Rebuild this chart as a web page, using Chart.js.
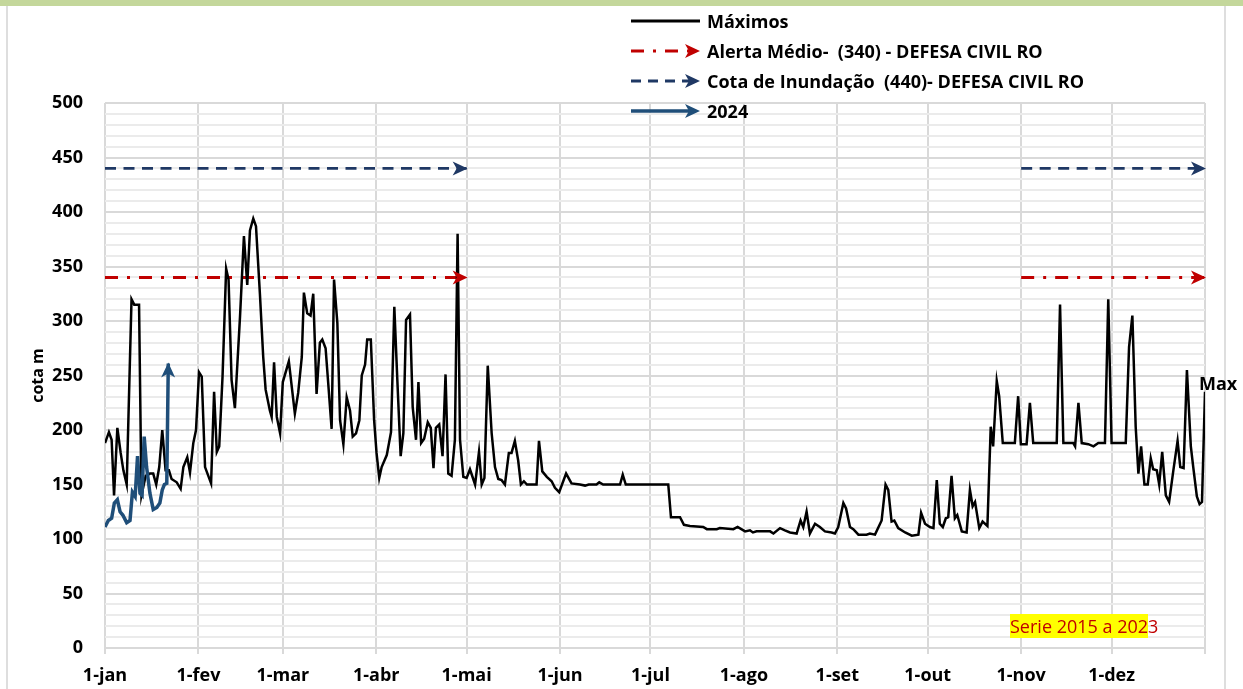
<!DOCTYPE html>
<html lang="pt">
<head>
  <meta charset="UTF-8">
  <title>Cotas máximas</title>
  <style>
    body { margin: 0; background: #fff; font-family: 'Open Sans', sans-serif; }
    #quadro { position: relative; width: 1243px; height: 689px; overflow: hidden; }
    .barra { position: absolute; left: 0; top: 0; width: 1243px; height: 6px; background: #c4d79b; }
    .borda { position: absolute; top: 6px; width: 2px; height: 683px; background: #dedede; }
    #grafico { position: absolute; left: 0; top: 0; }
    .item { position: absolute; left: 631px; height: 24px; white-space: nowrap; }
    .item svg { position: absolute; left: 0; top: 2px; }
    .item span { position: absolute; left: 76px; top: 0; font-weight: bold; font-size: 18px; line-height: 24px; color: #000; }
    .nota { position: absolute; left: 1010px; top: 614px; font-size: 18px; line-height: 25px; color: #c00000; white-space: nowrap; }
    .nota b { font-weight: normal; background: #ffff00; }
  </style>
</head>
<body>
<div id="quadro">
  <div class="barra"></div>
  <div class="borda" style="left:6px"></div>
  <div class="borda" style="left:1224px"></div>
  <canvas id="grafico" width="1243" height="689"></canvas>

  <div class="item" style="top:9px">
    <svg width="72" height="20"><line x1="0" y1="10" x2="69" y2="10" stroke="#000" stroke-width="3"/></svg>
    <span>Máximos</span>
  </div>
  <div class="item" style="top:39px">
    <svg width="72" height="20"><line x1="0" y1="10" x2="58" y2="10" stroke="#c00000" stroke-width="3" stroke-dasharray="13 9 3 9"/><polygon points="69,10 54,3 58,10 54,17" fill="#c00000"/></svg>
    <span>Alerta Médio-&nbsp; (340) - DEFESA CIVIL RO</span>
  </div>
  <div class="item" style="top:69px">
    <svg width="72" height="20"><line x1="0" y1="10" x2="58" y2="10" stroke="#1f3864" stroke-width="3" stroke-dasharray="10 7"/><polygon points="69,10 54,3 58,10 54,17" fill="#1f3864"/></svg>
    <span>Cota de Inundação&nbsp; (440)- DEFESA CIVIL RO</span>
  </div>
  <div class="item" style="top:99px">
    <svg width="72" height="20"><line x1="0" y1="10" x2="60" y2="10" stroke="#1f4e79" stroke-width="3.5"/><polygon points="69,10 54,3 58,10 54,17" fill="#1f4e79"/></svg>
    <span>2024</span>
  </div>

  <div class="nota"><b>Serie 2015 a 202</b>3</div>
</div>

<script src="https://cdn.jsdelivr.net/npm/chart.js"></script>
<script>
  // eixo x: dias desde 1-jan
  const mesesDias = [0, 31, 59, 90, 120, 151, 181, 212, 243, 273, 304, 334, 365];
  const mesesRotulos = ['1-jan', '1-fev', '1-mar', '1-abr', '1-mai', '1-jun', '1-jul', '1-ago', '1-set', '1-out', '1-nov', '1-dez'];

  // Máximos (serie 2015 a 2023)
  const maxDias = [0, 1.3, 2.2, 3, 4.1, 5.2, 6.1, 7.2, 8.8, 9.7, 11.3, 12.1, 13.5, 14.9, 16, 17, 18, 19, 20.1, 21.2,
    22.1, 23.8, 25.1, 26, 27.3, 28.2, 29.3, 30.2, 31.2, 32.1, 33.2, 35.2, 36.2, 37.1, 37.9, 39, 40.2, 41, 42, 43.1,
    44.8, 46.1, 47.2, 48.1, 49.2, 50.1, 51.4, 52.5, 53.3, 54.7, 55.3, 56.1, 57, 58.1, 59, 61, 63, 64.1, 65.3, 66,
    67.1, 68.2, 69.1, 70.2, 71.3, 72.1, 73.2, 75.2, 76, 77.1, 78, 79.1, 80.2, 81.3, 82.2, 83.3, 84.4, 85.2, 86.3, 87,
    88.2, 89.3, 90.1, 91, 91.8, 93.5, 94.9, 96, 97, 98.1, 99, 99.9, 101.2, 102.1, 103.2, 104, 104.9, 105.9, 107.1, 108.1,
    109, 109.8, 110.9, 112, 113, 113.9, 115, 116.1, 117, 117.8, 118.9, 120, 121.1, 122.8, 124.1, 125, 125.9, 127, 128.3, 129.4,
    130.5, 131.6, 132.7, 134, 134.9, 136, 137.1, 138, 139, 140, 143.2, 144, 145.1, 146.6, 148.2, 149.3, 150.7, 153, 154.8, 157.6,
    159.3, 160.5, 163.1, 164, 165.3, 170.9, 171.8, 172.8, 186.9, 187.8, 190.8, 192.1, 194.1, 198.5, 199.7, 203, 204, 208.5, 209.9, 212.4,
    214, 215, 216.2, 220.7, 221.8, 224, 225.6, 227.3, 229.5, 230.8, 231.7, 232.8, 233.9, 235.6, 237.2, 238.9, 241.1, 242.2, 243.3, 245,
    245.9, 247.2, 248.3, 250, 252.7, 253.8, 255.5, 257.7, 259, 259.9, 261, 261.9, 263.2, 265.5, 267.7, 269.9, 270.8, 272.1, 273.7, 274.9,
    276, 277, 278, 279, 279.8, 280.9, 282, 282.8, 284.3, 285.9, 287, 287.9, 288.7, 290.1, 291.2, 292.8, 293.9, 294.7, 295.9, 296.7,
    297.9, 301.9, 303, 303.9, 305.8, 306.9, 308, 315.8, 316.9, 318, 321.3, 321.9, 323, 324.1, 326.3, 328, 329.6, 331.8, 332.9, 334,
    338.7, 339.8, 340.9, 342, 342.9, 343.8, 344.9, 346, 347, 347.8, 349, 349.8, 350.8, 352, 353.1, 354.5, 355.9, 356.8, 357.9, 359,
    360.3, 361.1, 362.3, 363.2, 364, 365];
  const maxCotas = [188, 198, 191, 140, 202, 179, 163, 150, 320, 315, 315, 140, 158, 160, 160, 150, 166, 200, 163, 163,
    155, 152, 146, 166, 175, 161, 188, 200, 253, 249, 166, 151, 235, 180, 185, 249, 348, 338, 246, 220,
    304, 378, 333, 383, 394, 387, 325, 267, 237, 218, 212, 262, 212, 197, 244, 263, 215, 234, 267, 326,
    307, 305, 325, 233, 280, 283, 275, 201, 338, 298, 209, 187, 230, 218, 194, 197, 209, 250, 260, 283,
    283, 209, 179, 156, 166, 177, 198, 313, 246, 176, 197, 301, 306, 221, 191, 244, 188, 192, 207, 202,
    165, 202, 205, 176, 251, 160, 158, 191, 380, 191, 157, 156, 164, 150, 180, 150, 156, 259, 197, 166,
    155, 154, 150, 179, 179, 190, 172, 150, 153, 150, 150, 190, 162, 157, 153, 147, 143, 160, 151, 150,
    149, 150, 150, 152, 150, 150, 159, 150, 150, 120, 120, 113, 112, 111, 109, 109, 110, 109, 111, 107,
    108, 106, 107, 107, 105, 110, 108, 106, 105, 117, 111, 125, 105, 114, 111, 107, 106, 105, 111, 133,
    128, 111, 109, 104, 104, 105, 104, 117, 150, 145, 116, 117, 110, 106, 103, 104, 124, 114, 111, 110,
    154, 114, 111, 119, 120, 158, 119, 122, 107, 106, 145, 130, 134, 110, 116, 112, 203, 185, 245, 231,
    188, 188, 231, 187, 187, 225, 188, 188, 315, 188, 188, 185, 225, 188, 187, 185, 188, 188, 320, 188,
    188, 276, 305, 203, 160, 185, 150, 150, 174, 164, 163, 150, 180, 140, 134, 163, 190, 166, 165, 255,
    185, 166, 139, 132, 134, 235];

  // 2024
  const dias2024 = [0, 1.1, 2.2, 3.1, 4.1, 5, 5.9, 7.2, 8.3, 9.1, 10, 10.8, 11.6, 12.3, 13, 13.8, 14.9, 16, 17.2, 18.2, 19, 19.7, 20.5, 21];
  const cotas2024 = [111, 117, 119, 133, 136, 125, 122, 115, 117, 143, 139, 176, 142, 140, 194, 166, 142, 127, 129, 133, 145, 150, 151, 261];

  // niveis de referencia (Defesa Civil RO) e trechos onde aparecem
  const alertaMedio = 340;
  const cotaInundacao = 440;
  const trechosDias = [[0, 120], [304, 365]];

  const pares = (xs, ys) => xs.map((x, i) => ({ x: x, y: ys[i] }));
  const nivel = (trecho, v) => trecho.map(d => ({ x: d, y: v }));

  const fonte = "'Open Sans', sans-serif";
  Chart.defaults.font.family = fonte;
  Chart.defaults.color = '#000';

  // ponta de seta no fim das linhas marcadas
  const setas = {
    id: 'setas',
    afterDatasetsDraw(chart) {
      const ctx = chart.ctx;
      chart.data.datasets.forEach((ds, i) => {
        if (!ds.seta) return;
        const pts = chart.getDatasetMeta(i).data;
        const a = pts[pts.length - 2], b = pts[pts.length - 1];
        const ang = Math.atan2(b.y - a.y, b.x - a.x);
        ctx.save();
        ctx.translate(b.x, b.y);
        ctx.rotate(ang);
        ctx.beginPath();
        ctx.moveTo(1, 0);
        ctx.lineTo(-14, -7);
        ctx.lineTo(-10, 0);
        ctx.lineTo(-14, 7);
        ctx.closePath();
        ctx.fillStyle = ds.borderColor;
        ctx.fill();
        ctx.restore();
      });
      // rotulo "Max" no ultimo ponto da serie de maximos
      const pm = chart.getDatasetMeta(1).data;
      const ult = pm[pm.length - 1];
      ctx.save();
      ctx.font = 'bold 18px ' + fonte;
      ctx.fillStyle = '#000';
      ctx.textAlign = 'left';
      ctx.textBaseline = 'middle';
      ctx.fillText('Max', ult.x - 6, ult.y - 7);
      ctx.restore();
    }
  };

  new Chart(document.getElementById('grafico'), {
    type: 'line',
    data: {
      datasets: [
        { label: '2024', data: pares(dias2024, cotas2024), borderColor: '#1f4e79', borderWidth: 3.5, seta: true },
        { label: 'Máximos', data: pares(maxDias, maxCotas), borderColor: '#000000', borderWidth: 2.5 },
        { label: 'Alerta Médio-  (340) - DEFESA CIVIL RO', data: nivel(trechosDias[0], alertaMedio), borderColor: '#c00000', borderWidth: 3, borderDash: [13, 9, 3, 9], seta: true },
        { label: 'Alerta Médio 2', data: nivel(trechosDias[1], alertaMedio), borderColor: '#c00000', borderWidth: 3, borderDash: [13, 9, 3, 9], seta: true },
        { label: 'Cota de Inundação  (440)- DEFESA CIVIL RO', data: nivel(trechosDias[0], cotaInundacao), borderColor: '#1f3864', borderWidth: 2.75, borderDash: [11, 7.5], seta: true },
        { label: 'Cota de Inundação 2', data: nivel(trechosDias[1], cotaInundacao), borderColor: '#1f3864', borderWidth: 2.75, borderDash: [11, 7.5], seta: true }
      ]
    },
    options: {
      responsive: false,
      animation: false,
      elements: { point: { radius: 0, hoverRadius: 0 }, line: { tension: 0, fill: false } },
      layout: { padding: { top: 103, right: 38, left: 0, bottom: 0 } },
      plugins: { legend: { display: false }, tooltip: { enabled: false } },
      scales: {
        x: {
          type: 'linear',
          min: 0,
          max: 365,
          afterBuildTicks: s => { s.ticks = mesesDias.map(v => ({ value: v })); },
          afterFit: s => { s.height = 41; },
          ticks: {
            autoSkip: false,
            maxRotation: 0,
            padding: 11,
            font: { size: 18, weight: 'bold' },
            callback: v => mesesRotulos[mesesDias.indexOf(v)] || ''
          },
          grid: { color: '#d9d9d9', lineWidth: 2, tickLength: 6 },
          border: { color: '#d9d9d9', width: 2 }
        },
        y: {
          min: 0,
          max: 500,
          afterFit: s => { s.width = 105; },
          ticks: {
            stepSize: 10,
            autoSkip: false,
            padding: 22,
            font: { size: 18, weight: 'bold' },
            callback: v => (v % 50 === 0 ? v : '')
          },
          grid: {
            drawTicks: false,
            lineWidth: 2,
            color: c => (c.tick && c.tick.value % 50 === 0 ? '#d9d9d9' : '#ebebeb')
          },
          border: { display: false },
          title: { display: true, text: 'cota m', font: { size: 16, weight: 'bold' }, padding: { top: 29 } }
        }
      }
    },
    plugins: [setas]
  });
</script>
</body>
</html>
